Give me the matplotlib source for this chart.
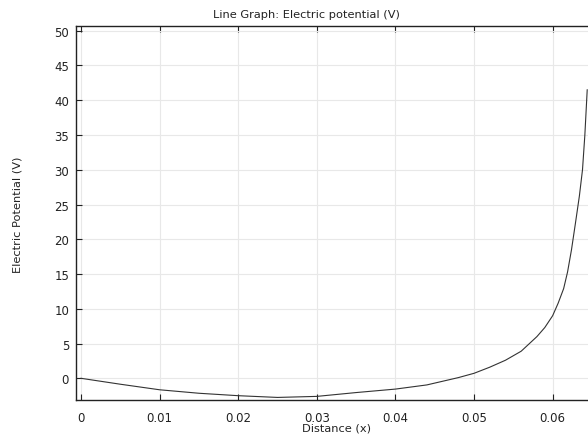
import matplotlib
matplotlib.use('Agg')
import matplotlib.pyplot as plt

# Values
distance = [0.000, 0.005, 0.010, 0.015, 0.020, 0.025, 0.030, 0.035, 0.040,
            0.044, 0.048, 0.050, 0.052, 0.054, 0.056, 0.058, 0.059, 0.060,
            0.0607, 0.0614, 0.0619, 0.0624, 0.0629, 0.0634, 0.0638, 0.0641,
            0.0644]
potential = [0.0, -0.85, -1.65, -2.15, -2.5, -2.75, -2.6, -2.05, -1.55,
             -0.95, 0.1, 0.72, 1.6, 2.6, 3.9, 6.0, 7.3, 9.0,
             10.8, 12.9, 15.3, 18.5, 22.3, 26.2, 30.0, 35.0,
             41.5]
x_ticks = [0, 0.01, 0.02, 0.03, 0.04, 0.05, 0.06]
x_tick_labels = ['0', '0.01', '0.02', '0.03', '0.04', '0.05', '0.06']
y_ticks = [0, 5, 10, 15, 20, 25, 30, 35, 40, 45, 50]

fig = plt.figure(figsize=(5.88, 4.39), dpi=100)
ax = fig.add_axes([76 / 588, 1 - 401 / 439, 1 - 76 / 588, (401 - 27) / 439])

ax.plot(distance, potential, color='#333333', linewidth=0.8)

ax.set_xlim(-0.00064, 0.0645)
ax.set_ylim(-3.12, 50.68)
ax.set_xticks(x_ticks)
ax.set_xticklabels(x_tick_labels)
ax.set_yticks(y_ticks)
ax.grid(True, color='#e8e8e8', linewidth=0.8)
ax.set_axisbelow(True)

ax.tick_params(direction='in', length=4, width=0.8, top=True, right=False,
               labelsize=8.5, colors='#222222')
ax.tick_params(axis='x', pad=8)
ax.tick_params(axis='y', pad=5)
for side in ['left', 'bottom', 'top']:
    ax.spines[side].set_color('#222222')
    ax.spines[side].set_linewidth(1.0)
ax.spines['right'].set_visible(False)

fig.text(306 / 588, 1 - 15 / 439, 'Line Graph: Electric potential (V)',
         ha='center', va='center', fontsize=8.2, color='#222222')
fig.text(336 / 588, 1 - 429 / 439, 'Distance (x)',
         ha='center', va='center', fontsize=8.2, color='#222222')
fig.text(18 / 588, 1 - 215 / 439, 'Electric Potential (V)', rotation=90,
         ha='center', va='center', fontsize=8.2, color='#222222')

fig.savefig('out.png', dpi=100)
